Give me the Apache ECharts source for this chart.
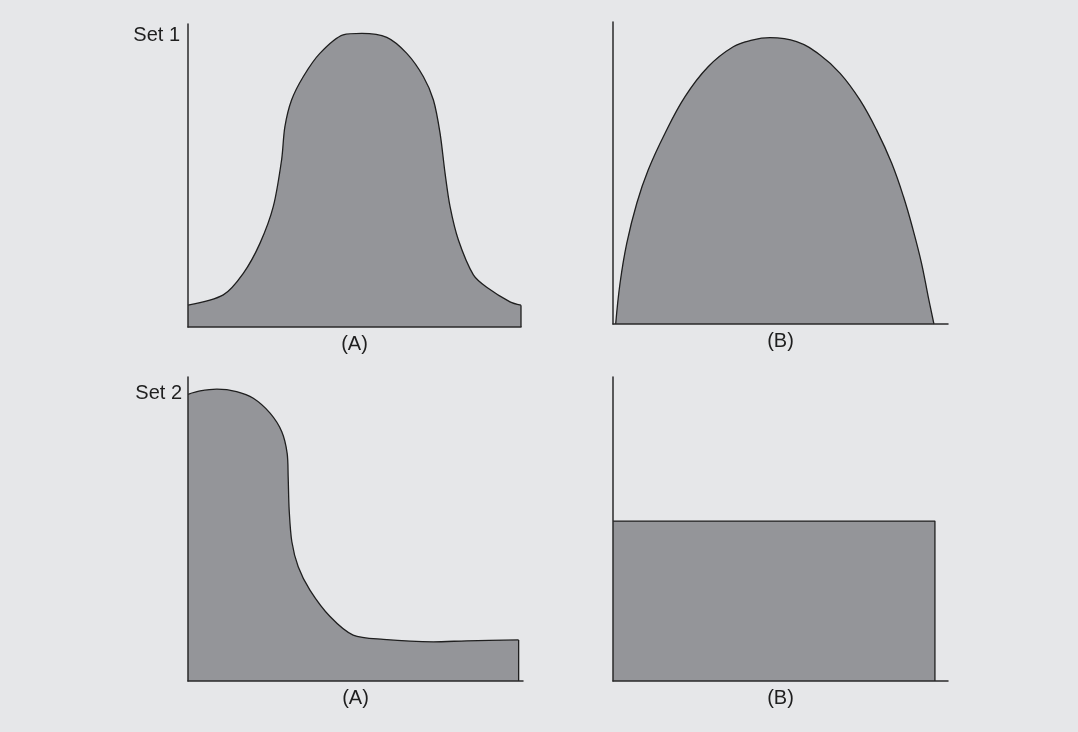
<!DOCTYPE html>
<html>
<head>
<meta charset="utf-8">
<script src="https://cdn.jsdelivr.net/npm/echarts@6/dist/echarts.min.js"></script>
<style>
  html, body { margin: 0; padding: 0; background: #e6e7e9; }
  #chart { width: 1078px; height: 732px; }
</style>
</head>
<body>
<div id="chart"></div>
<script>
// Row labels and panel labels
const rowLabels = ['Set 1', 'Set 2'];
const panelLabels = ['(A)', '(B)', '(A)', '(B)'];

// Set 1, panel A: bell-shaped profile
const set1AX = [0, 10.6, 16.6, 21.6, 25.6, 28.1, 29.1, 31.1, 34.6, 39.6, 46.6, 52.2, 59.7, 65.7, 70.7, 73.7, 75.7, 77.2, 78.7, 81.2, 85.7, 89.7, 96.7, 100];
const set1AY = [7.2, 10.6, 17.7, 27.6, 39.7, 55.1, 66.1, 74.9, 82.6, 90.3, 96.4, 96.9, 95.6, 90.3, 82.6, 74.9, 63.9, 50.7, 39.7, 28.7, 17.2, 13.1, 8.3, 7.2];

// Set 1, panel B: arch-shaped profile
const set1BX = [0.8, 2.1, 4.1, 7.1, 10.5, 15.5, 21.5, 28.4, 35.9, 41.5, 46.9, 54.8, 61.8, 67.8, 73.7, 78.7, 83.2, 86.7, 89.6, 92.1, 94.1, 95.8];
const set1BY = [0, 13.5, 26.7, 40.0, 51.0, 63.1, 75.3, 85.2, 91.8, 94.0, 94.8, 93.5, 89.1, 83.0, 74.2, 64.2, 53.2, 42.2, 31.1, 20.1, 9.0, 0];

// Set 2, panel A: high plateau dropping to a low tail
const set2AX = [0, 3.6, 8.6, 14.5, 19.5, 24.5, 28.0, 29.6, 29.9, 30.2, 31.0, 32.9, 36.4, 42.4, 49.3, 58.3, 73.2, 83.2, 98.7];
const set2AY = [94.3, 95.4, 96.0, 95.2, 93.0, 88.1, 82.0, 74.9, 67.2, 56.3, 45.8, 37.6, 29.9, 21.2, 15.1, 13.7, 12.9, 13.2, 13.5];

// Set 2, panel B: flat level
const set2BX = [0, 96.1, 96.1];
const set2BY = [52.6, 52.6, 0];

const FONT = '"Liberation Sans", Arial, Helvetica, sans-serif';
const INK = '#1f1f1f';
const FILL = '#949599';

const grids = [
  { left: 188, top: 24, width: 333, height: 303 },
  { left: 613, top: 22, width: 335, height: 302 },
  { left: 188, top: 377, width: 335, height: 304 },
  { left: 613, top: 377, width: 335, height: 304 }
];

function pairs(xs, ys) { return xs.map((x, i) => [x, ys[i]]); }

const axisLine = { show: true, onZero: false, lineStyle: { color: '#2a2a2a', width: 1.5 } };

const xAxes = grids.map((g, i) => ({
  gridIndex: i, type: 'value', min: 0, max: 100, z: 5,
  axisLine: axisLine, axisTick: { show: false }, axisLabel: { show: false }, splitLine: { show: false },
  name: panelLabels[i], nameLocation: 'middle', nameGap: 7,
  nameTextStyle: { fontSize: 20, color: INK, fontFamily: FONT }
}));
const yAxes = grids.map((g, i) => ({
  gridIndex: i, type: 'value', min: 0, max: 100, z: 5,
  axisLine: axisLine, axisTick: { show: false }, axisLabel: { show: false }, splitLine: { show: false }
}));

function area(idx, xs, ys, smooth) {
  return {
    type: 'line', xAxisIndex: idx, yAxisIndex: idx,
    data: pairs(xs, ys), showSymbol: false, clip: false,
    smooth: smooth,
    lineStyle: { color: INK, width: 1.3 },
    areaStyle: { color: FILL, opacity: 1 }
  };
}
function edge(idx, x, y) {
  return {
    type: 'line', xAxisIndex: idx, yAxisIndex: idx,
    data: [[x, y], [x, 0]], showSymbol: false, clip: false,
    lineStyle: { color: INK, width: 1.3 }
  };
}

const chart = echarts.init(document.getElementById('chart'), null, { renderer: 'canvas' });
chart.setOption({
  backgroundColor: '#e6e7e9',
  animation: false,
  grid: grids,
  xAxis: xAxes,
  yAxis: yAxes,
  series: [
    area(0, set1AX, set1AY, 0.3),
    edge(0, set1AX[set1AX.length - 1], set1AY[set1AY.length - 1]),
    area(1, set1BX, set1BY, 0.4),
    area(2, set2AX, set2AY, 0.3),
    edge(2, set2AX[set2AX.length - 1], set2AY[set2AY.length - 1]),
    area(3, set2BX, set2BY, false)
  ],
  graphic: [
    { type: 'text', x: 180, y: 35, style: { text: rowLabels[0], align: 'right', verticalAlign: 'middle', font: '20px ' + FONT, fill: INK } },
    { type: 'text', x: 182, y: 393, style: { text: rowLabels[1], align: 'right', verticalAlign: 'middle', font: '20px ' + FONT, fill: INK } }
  ]
});
</script>
</body>
</html>
